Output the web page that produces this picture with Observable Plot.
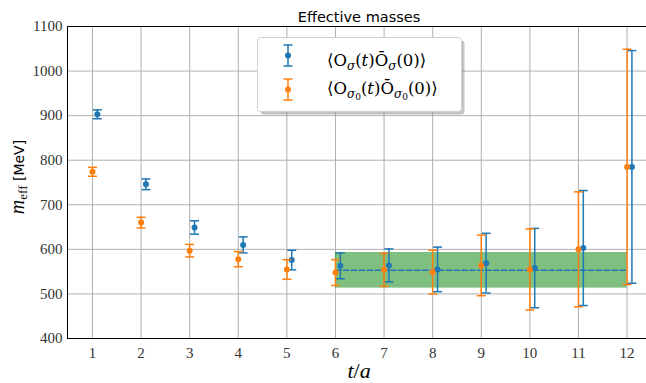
<!DOCTYPE html>
<html><head><meta charset="utf-8">
<script src="https://cdn.jsdelivr.net/npm/d3@7"></script>
<script src="https://cdn.jsdelivr.net/npm/@observablehq/plot@0.6"></script>
<style>body{margin:0;background:#fff} svg{display:block}</style>
</head><body><div id="chart"></div>
<script>
// ---- data ----
const timeSlices = [1, 2, 3, 4, 5, 6, 7, 8, 9, 10, 11, 12];
const massSigma  = [903, 746, 649, 610, 576, 563, 564, 555, 569, 558, 603, 785];
const errSigma   = [10, 12, 15, 18, 22, 29, 37, 50, 67, 89, 129, 261];
const massSigma0 = [774, 660, 597, 578, 555, 548, 554, 549, 564, 555, 600, 785];
const errSigma0  = [10, 12, 14, 17, 22, 29, 37, 49, 68, 91, 129, 264];
const fitRange = [6, 12];
const fitMass = 553;
const fitErr = 40;
const yTicks = [400, 500, 600, 700, 800, 900, 1000, 1100];
const xDomain = [0.486, 12.4];
const yDomain = [400, 1100];
const titleText = "Effective masses";

const blue = "#1f77b4", orange = "#ff7f0e";
const series = [
  {m: massSigma, e: errSigma, shift: 0.1, color: blue},
  {m: massSigma0, e: errSigma0, shift: 0, color: orange}
];
const rowsOf = s => timeSlices.map((t, i) => ({x: t + s.shift, m: s.m[i], lo: s.m[i] - s.e[i], hi: s.m[i] + s.e[i]}));
const fitRows = [{x1: fitRange[0], x2: fitRange[1], y1: fitMass - fitErr, y2: fitMass + fitErr}];
const fitLine = fitRange.map(x => ({x, y: fitMass}));

const capSymbol = {draw(ctx, size) { const r = Math.sqrt(size / Math.PI); ctx.moveTo(-r, 0); ctx.lineTo(r, 0); }};

const seriesMarks = series.flatMap(s => {
  const rows = rowsOf(s);
  return [
    Plot.ruleX(rows, {x: "x", y1: "lo", y2: "hi", stroke: s.color, strokeWidth: 1.5}),
    Plot.dot(rows, {x: "x", y: "lo", symbol: capSymbol, r: 4.5, fill: "none", stroke: s.color, strokeWidth: 1.5}),
    Plot.dot(rows, {x: "x", y: "hi", symbol: capSymbol, r: 4.5, fill: "none", stroke: s.color, strokeWidth: 1.5}),
    Plot.dot(rows, {x: "x", y: "m", r: 3, fill: s.color, stroke: "none"})
  ];
});

const chart = Plot.plot({
  width: 646, height: 383,
  marginLeft: 67, marginRight: 0, marginTop: 26, marginBottom: 45,
  style: {fontFamily: "'Liberation Serif', serif", fontSize: "15px", color: "#333", background: "#fff"},
  x: {domain: xDomain, ticks: timeSlices, tickFormat: d => String(d), tickSize: 0, tickPadding: 9, label: null},
  y: {domain: yDomain, ticks: yTicks, tickFormat: d => String(d), tickSize: 0, tickPadding: 5, label: null},
  marks: [
    Plot.ruleX(timeSlices, {stroke: "#b0b0b0", strokeWidth: 1}),
    Plot.ruleY(yTicks, {stroke: "#b0b0b0", strokeWidth: 1}),
    Plot.rect(fitRows, {x1: "x1", x2: "x2", y1: "y1", y2: "y2", fill: "green", fillOpacity: 0.5}),
    Plot.line(fitLine, {x: "x", y: "y", stroke: blue, strokeWidth: 1.5, strokeDasharray: "5.5,2.4"}),
    ...seriesMarks,
    Plot.ruleY(yDomain, {stroke: "black", strokeWidth: 1}),
    Plot.ruleX([xDomain[0]], {stroke: "black", strokeWidth: 1}),
    Plot.text([titleText], {frameAnchor: "top", dy: -5, dx: 2, lineAnchor: "bottom", fontFamily: "'DejaVu Sans', sans-serif", fontSize: 14.5, fill: "black"})
  ]
});

const svg = d3.select(chart);
// y label
const yl = svg.append("text").attr("transform", "translate(24,177) rotate(-90)").attr("text-anchor", "middle").attr("fill", "black");
yl.append("tspan").attr("font-family", "'Liberation Serif', serif").attr("font-style", "italic").attr("font-size", 20).text("m");
yl.append("tspan").attr("font-family", "'Liberation Serif', serif").attr("font-size", 13).attr("dy", 3).text("eff");
yl.append("tspan").attr("font-family", "'DejaVu Sans', sans-serif").attr("font-size", 14).attr("dy", -3).text("\u00a0[MeV]");
// x label
const xl = svg.append("text").attr("x", 359).attr("y", 378).attr("text-anchor", "middle").attr("fill", "black")
  .attr("font-family", "'Liberation Serif', serif").attr("font-size", 22);
xl.append("tspan").attr("font-style", "italic").text("t");
xl.append("tspan").text("/");
xl.append("tspan").attr("font-style", "italic").text("a");

// legend
const lg = svg.append("g");
lg.append("rect").attr("x", 260.5).attr("y", 40.5).attr("width", 204).attr("height", 74).attr("rx", 3).attr("fill", "#888").attr("fill-opacity", 0.5);
lg.append("rect").attr("x", 257.5).attr("y", 37.5).attr("width", 204).attr("height", 74).attr("rx", 3).attr("fill", "white").attr("stroke", "#d0d0d0");
const legendItems = [{color: blue, cy: 55.5}, {color: orange, cy: 89.5}];
legendItems.forEach((it, k) => {
  lg.append("line").attr("x1", 288).attr("x2", 288).attr("y1", it.cy - 10.5).attr("y2", it.cy + 10.5).attr("stroke", it.color).attr("stroke-width", 1.5);
  [-10.5, 10.5].forEach(d => lg.append("line").attr("x1", 283.5).attr("x2", 292.5).attr("y1", it.cy + d).attr("y2", it.cy + d).attr("stroke", it.color).attr("stroke-width", 1.5));
  lg.append("circle").attr("cx", 288).attr("cy", it.cy).attr("r", 3).attr("fill", it.color);
  const tx = lg.append("text").attr("x", 327).attr("y", k === 0 ? 66 : 94).attr("fill", "black").attr("text-anchor", "start")
    .attr("font-family", "'DejaVu Serif', serif").attr("font-size", 16.5);
  const subPart = () => {
    if (k === 0) { tx.append("tspan").attr("font-size", 12).attr("font-style", "italic").attr("dy", 4).text("σ"); tx.append("tspan").attr("dy", -4).text("("); }
    else {
      tx.append("tspan").attr("font-size", 12).attr("font-style", "italic").attr("dy", 4).text("σ");
      tx.append("tspan").attr("font-size", 9).attr("dy", 2).text("0");
      tx.append("tspan").attr("dy", -6).text("(");
    }
  };
  tx.append("tspan").text("⟨O");
  subPart();
  tx.append("tspan").attr("font-style", "italic").text("t");
  tx.append("tspan").text(")Ō");
  subPart();
  tx.append("tspan").text("0)⟩");
});

document.getElementById("chart").appendChild(chart);
</script>
</body></html>
